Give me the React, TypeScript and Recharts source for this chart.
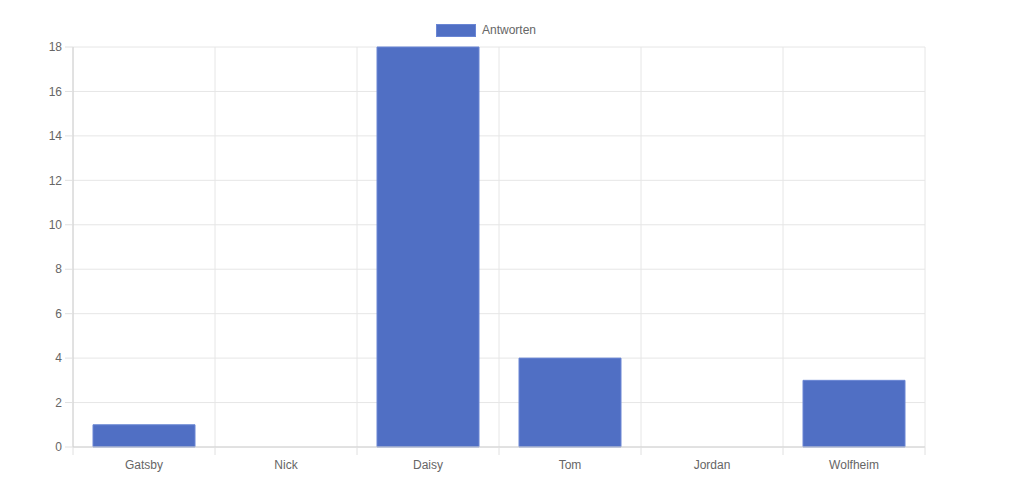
import React from "react";
import { BarChart, Bar, XAxis, YAxis, CartesianGrid, Legend } from "recharts";

const names = ["Gatsby", "Nick", "Daisy", "Tom", "Jordan", "Wolfheim"];
const antworten = [1, 0, 18, 4, 0, 3];
const yTicks = [0, 2, 4, 6, 8, 10, 12, 14, 16, 18];
const boundaries = [0, 1, 2, 3, 4, 5, 6];

const data = names.map((name, i) => ({ name, idx: i + 0.5, antworten: antworten[i] }));

const font = "'Liberation Sans', Arial, Helvetica, sans-serif";

function LegendContent() {
  return (
    <div style={{ display: "flex", alignItems: "center", fontFamily: font, fontSize: 12, color: "#666" }}>
      <span
        style={{
          display: "inline-block",
          width: 38,
          height: 11,
          background: "#506fc4",
          border: "1px solid #6a86d4",
          marginRight: 6,
        }}
      />
      <span>Antworten</span>
    </div>
  );
}

const EmptyTick = () => <g />;

export default function App() {
  return (
    <div style={{ position: "absolute", left: 0, top: 0, width: 1009, height: 485, background: "#fff" }}>
      <BarChart
        width={1009}
        height={485}
        data={data}
        margin={{ top: 47, right: 84, bottom: 0, left: 0 }}
        barCategoryGap={20}
      >
        <CartesianGrid
          xAxisId="b"
          stroke="#e6e6e6"
          horizontalValues={yTicks}
          verticalCoordinatesGenerator={({ offset }: any) =>
            boundaries.map((b) => offset.left + (offset.width * b) / boundaries[boundaries.length - 1])
          }
        />
        <XAxis
          xAxisId="a"
          type="number"
          dataKey="idx"
          domain={[0, 6]}
          ticks={boundaries}
          interval={0}
          tick={EmptyTick}
          tickSize={8}
          height={1}
          axisLine={{ stroke: "#d0d0d0" }}
          tickLine={{ stroke: "#e0e0e0" }}
        />
        <XAxis
          xAxisId="b"
          dataKey="name"
          height={37}
          tickLine={false}
          axisLine={false}
          tickMargin={6}
          tick={{ fill: "#666", fontSize: 12, fontFamily: font }}
          interval={0}
        />
        <YAxis
          width={73}
          domain={[0, 18]}
          ticks={yTicks}
          interval={0}
          tickSize={8}
          tickMargin={3}
          tick={{ fill: "#666", fontSize: 12, fontFamily: font }}
          axisLine={{ stroke: "#d0d0d0" }}
          tickLine={{ stroke: "#e0e0e0" }}
        />
        <Legend
          verticalAlign="top"
          content={<LegendContent />}
          wrapperStyle={{ position: "absolute", left: 436, top: 23, width: "auto", height: 0 }}
        />
        <Bar
          xAxisId="b"
          dataKey="antworten"
          name="Antworten"
          fill="#506fc4"
          stroke="#6a86d4"
          strokeWidth={1}
          isAnimationActive={false}
        />
      </BarChart>
    </div>
  );
}
